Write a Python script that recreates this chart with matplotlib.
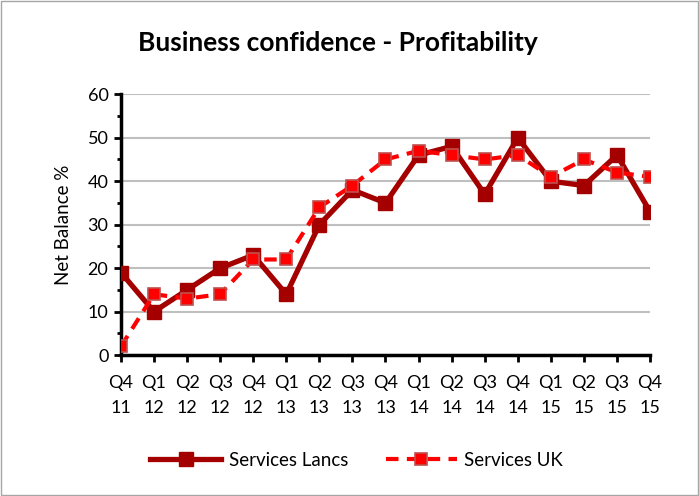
import numpy as np
import matplotlib.pyplot as plt
from matplotlib.ticker import MultipleLocator

plt.rcParams['font.family'] = ['Lato', 'DejaVu Sans']

# ── Data ──────────────────────────────────────────────────────────────────────
quarters = ["Q4\n11", "Q1\n12", "Q2\n12", "Q3\n12", "Q4\n12", "Q1\n13", "Q2\n13",
            "Q3\n13", "Q4\n13", "Q1\n14", "Q2\n14", "Q3\n14", "Q4\n14", "Q1\n15",
            "Q2\n15", "Q3\n15", "Q4\n15"]
services_lancs = [19, 10, 15, 20, 23, 14, 30, 38, 35, 46, 48, 37, 50, 40, 39, 46, 33]
services_uk    = [2, 14, 13, 14, 22, 22, 34, 39, 45, 47, 46, 45, 46, 41, 45, 42, 41]

x = np.arange(len(quarters))

# ── Figure ────────────────────────────────────────────────────────────────────
fig = plt.figure(figsize=(6.99, 4.96), dpi=100)
ax = fig.add_axes([0.173, 0.284, 0.757, 0.526])

fig.patches.append(plt.Rectangle((0.002, 0.002), 0.996, 0.996, transform=fig.transFigure,
                                 fill=False, edgecolor='#A6A6A6', linewidth=1.0))

ax.plot(x, services_lancs, color='#A50000', linewidth=3.8, marker='s', markersize=10,
        markerfacecolor='#A50000', markeredgecolor='#A50000', label='Services Lancs',
        zorder=3)
ax.plot(x, services_uk, color='#FF0000', linewidth=3.0, linestyle=(0, (3, 2)),
        marker='s', markersize=9, markerfacecolor='#FF0000', markeredgecolor='#C0504D',
        markeredgewidth=1.2, label='Services UK', zorder=4)

ax.set_xlim(0, len(quarters) - 1)
ax.set_ylim(0, 60)
ax.set_xticks(x)
ax.set_xticklabels(quarters, fontsize=13, linespacing=1.75)
ax.yaxis.set_major_locator(MultipleLocator(10))
ax.yaxis.set_minor_locator(MultipleLocator(5))
ax.tick_params(axis='y', which='major', length=5, width=2, labelsize=13, pad=4)
ax.tick_params(axis='y', which='minor', length=3, width=2)
ax.tick_params(axis='x', length=5, width=2, pad=9)

ax.grid(axis='y', color='#BFBFBF', linewidth=1.5)
ax.set_axisbelow(True)
for side in ['top', 'right']:
    ax.spines[side].set_visible(False)
for side in ['left', 'bottom']:
    ax.spines[side].set_linewidth(2.5)

ax.set_ylabel("Net Balance %", fontsize=13.5, labelpad=11)
fig.text(0.484, 0.913, "Business confidence - Profitability", fontsize=19,
         fontweight='bold', ha='center', va='center')

fig.legend(loc='center', bbox_to_anchor=(0.51, 0.072), ncol=2, frameon=False,
           fontsize=13.5, handlelength=3.8, columnspacing=2.0, handletextpad=0.4)

plt.savefig("out.png", dpi=100)
plt.close()
